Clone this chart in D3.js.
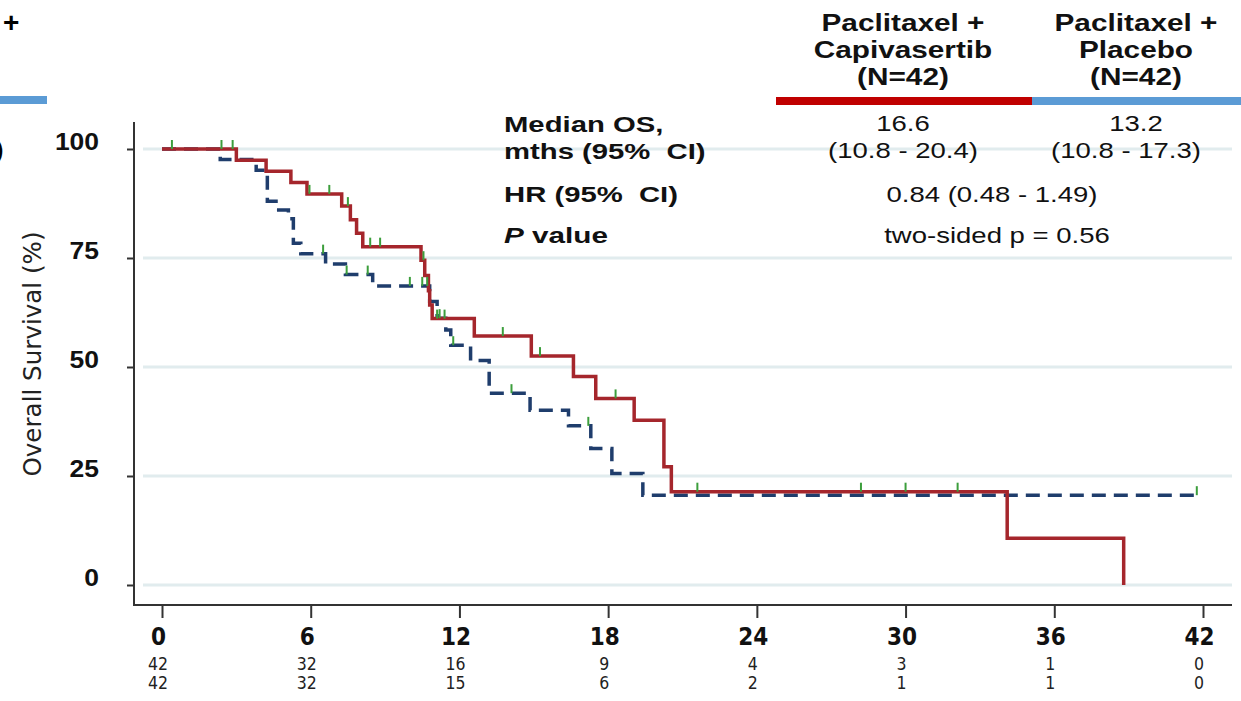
<!DOCTYPE html>
<html>
<head>
<meta charset="utf-8">
<script src="https://cdn.jsdelivr.net/npm/d3@7"></script>
<style>
  html, body { margin: 0; padding: 0; background: #fff; }
  svg { display: block; }
  .wide { font-family: "Liberation Sans", Arial, sans-serif; }
  .narrow { font-family: "Liberation Sans Narrow", "Arial Narrow", "DejaVu Sans Condensed", sans-serif; }
</style>
</head>
<body>
<svg id="chart" width="1241" height="701"></svg>
<script>
// Months on the x axis and numbers at risk beneath each tick
const months = [0, 6, 12, 18, 24, 30, 36, 42];
const atRiskCapi = [42, 32, 16, 9, 4, 3, 1, 0];
const atRiskPlac = [42, 32, 15, 6, 2, 1, 1, 0];
const survTicks = [0, 25, 50, 75, 100];

// Kaplan-Meier steps: Paclitaxel + Capivasertib
const capiTime = [0, 3.0, 4.2, 5.2, 5.85, 7.25, 7.6, 7.85, 8.1, 10.45, 10.6, 10.75, 10.8, 10.9, 12.6, 14.9, 16.6, 17.5, 19.05, 20.25, 20.55, 34.1, 38.8];
const capiSurv = [100, 97.4, 94.9, 92.3, 89.7, 86.9, 83.8, 80.7, 77.6, 74.5, 71.0, 67.5, 64.2, 61.1, 57.1, 52.5, 47.8, 42.8, 37.8, 27.1, 21.4, 10.7, 0];
const capiCensor = [0.4, 2.4, 2.85, 5.95, 6.75, 7.5, 8.4, 8.8, 10.55, 11.1, 11.4, 13.75, 15.25, 18.3, 21.6, 28.2, 30.0, 32.1];

// Kaplan-Meier steps: Paclitaxel + Placebo
const placTime = [0, 2.35, 3.8, 4.25, 4.6, 5.1, 5.3, 5.6, 6.6, 7.4, 8.5, 10.8, 11.1, 11.45, 11.65, 12.45, 13.2, 14.85, 16.4, 17.3, 18.15, 19.4, 41.75];
const placSurv = [100, 97.6, 95.1, 88.0, 86.0, 84.0, 78.4, 76.0, 73.6, 71.2, 68.6, 65.0, 61.2, 58.5, 55.0, 51.5, 44.0, 40.1, 36.5, 31.3, 25.6, 20.6, 20.6];
const placCensor = [6.5, 7.45, 8.3, 10.0, 10.5, 10.7, 11.2, 11.75, 14.1, 17.2, 41.75];

// Summary table
const armHeads = [["Paclitaxel +", "Capivasertib", "(N=42)"], ["Paclitaxel +", "Placebo", "(N=42)"]];
const rowLabels = ["Median OS,", "mths (95%\u00a0 CI)", "HR (95%\u00a0 CI)"];
const medianOS = ["16.6", "13.2"];
const medianCI = ["(10.8 - 20.4)", "(10.8 - 17.3)"];
const hrText = "0.84 (0.48 - 1.49)";
const pText = "two-sided p = 0.56";

const RED = "#a5262c", NAVY = "#1f3d6c", GREEN = "#3c9e3c";
const svg = d3.select("#chart");

const x = d3.scaleLinear().domain([0, 42]).range([162, 1203]);
const y = d3.scaleLinear().domain([0, 100]).range([585, 149]);

// horizontal gridlines
svg.append("g").selectAll("line").data(survTicks).join("line")
  .attr("x1", 143).attr("x2", 1232)
  .attr("y1", d => y(d)).attr("y2", d => y(d))
  .attr("stroke", "#e1ecee").attr("stroke-width", 3);

// widen the table lettering by a factor k
function stretch(sel, k) {
  sel.each(function () {
    const w = this.getComputedTextLength();
    d3.select(this).attr("textLength", w * k).attr("lengthAdjust", "spacingAndGlyphs");
  });
}

// ---- summary table ----
const colX = [903, 1136];
const tbl = svg.append("g").attr("class", "wide").attr("fill", "#111");
armHeads.forEach((lines, i) => {
  lines.forEach((t, j) => {
    tbl.append("text").attr("x", colX[i]).attr("y", 31 + j * 27)
      .attr("text-anchor", "middle").attr("font-weight", "bold").attr("font-size", 24)
      .text(t).call(stretch, 1.24);
  });
});
svg.append("rect").attr("x", 776).attr("y", 97).attr("width", 256).attr("height", 8).attr("fill", "#c00000");
svg.append("rect").attr("x", 1032).attr("y", 97).attr("width", 209).attr("height", 8).attr("fill", "#5b9bd5");

const rowY = [132, 159, 202];
rowLabels.forEach((t, i) => {
  tbl.append("text").attr("x", 504).attr("y", rowY[i]).attr("font-weight", "bold").attr("font-size", 22)
    .text(t).call(stretch, 1.33);
});
const pv = tbl.append("text").attr("x", 504).attr("y", 243).attr("font-weight", "bold").attr("font-size", 22);
pv.append("tspan").attr("font-style", "italic").text("P");
pv.append("tspan").text(" value");
stretch(pv, 1.35);

medianOS.forEach((t, i) => {
  tbl.append("text").attr("x", colX[i]).attr("y", 131).attr("text-anchor", "middle")
    .attr("font-size", 22).text(t).call(stretch, 1.25);
});
medianCI.forEach((t, i) => {
  tbl.append("text").attr("x", colX[i] - (i ? 10 : 0)).attr("y", 158).attr("text-anchor", "middle")
    .attr("font-size", 22).text(t).call(stretch, 1.25);
});
tbl.append("text").attr("x", 992).attr("y", 202).attr("text-anchor", "middle")
  .attr("font-size", 22).text(hrText).call(stretch, 1.25);
tbl.append("text").attr("x", 997).attr("y", 243).attr("text-anchor", "middle")
  .attr("font-size", 22).text(pText).call(stretch, 1.25);

// edge of the neighbouring panel
svg.append("text").attr("class", "wide").attr("x", 3).attr("y", 32)
  .attr("font-weight", "bold").attr("font-size", 28).text("+");
svg.append("rect").attr("x", 0).attr("y", 96).attr("width", 47).attr("height", 8).attr("fill", "#5b9bd5");
svg.append("text").attr("class", "wide").attr("x", -4).attr("y", 157)
  .attr("font-weight", "bold").attr("font-size", 22).text(")");

// ---- axes ----
svg.append("line").attr("x1", 134).attr("x2", 134).attr("y1", 122).attr("y2", 606)
  .attr("stroke", "#333").attr("stroke-width", 2);
svg.append("line").attr("x1", 133).attr("x2", 1232).attr("y1", 605).attr("y2", 605)
  .attr("stroke", "#333").attr("stroke-width", 2);

const yAx = svg.append("g").attr("transform", "translate(134,0)")
  .call(d3.axisLeft(y).tickValues(survTicks).tickSize(7).tickPadding(28));
yAx.select(".domain").remove();
yAx.selectAll(".tick line").attr("stroke", "#333").attr("stroke-width", 2);
yAx.selectAll(".tick text").attr("class", "wide").attr("font-size", 23).attr("font-weight", "bold")
  .attr("fill", "#111").attr("dy", "0em")
  .call(stretch, 1.15);

const xAx = svg.append("g").attr("transform", "translate(0,605)")
  .call(d3.axisBottom(x).tickValues(months).tickSize(13).tickPadding(10));
xAx.select(".domain").remove();
xAx.selectAll(".tick line").attr("stroke", "#333").attr("stroke-width", 2);
xAx.selectAll(".tick text").attr("class", "narrow").attr("font-size", 24).attr("font-weight", "bold")
  .attr("fill", "#111").attr("dx", -4);

// numbers at risk
[atRiskCapi, atRiskPlac].forEach((row, r) => {
  svg.append("g").selectAll("text").data(row).join("text")
    .attr("class", "narrow").attr("font-size", 17.5).attr("fill", "#222")
    .attr("text-anchor", "middle")
    .attr("x", (d, i) => x(months[i]) - 4).attr("y", 670 + r * 19)
    .text(d => d);
});

// y axis title
svg.append("text").attr("class", "narrow")
  .attr("transform", "translate(41,354) rotate(-90)")
  .attr("text-anchor", "middle").attr("font-size", 25).attr("fill", "#222")
  .attr("textLength", 245).attr("lengthAdjust", "spacingAndGlyphs")
  .text("Overall Survival (%)");

// ---- survival curves ----
const step = d3.line().x(d => x(d[0])).y(d => y(d[1])).curve(d3.curveStepAfter);
const capi = capiTime.map((t, i) => [t, capiSurv[i]]);
const plac = placTime.map((t, i) => [t, placSurv[i]]);

svg.append("path").attr("d", step(plac)).attr("fill", "none")
  .attr("stroke", NAVY).attr("stroke-width", 3.5).attr("stroke-dasharray", "14 8");
svg.append("path").attr("d", step(capi)).attr("fill", "none")
  .attr("stroke", RED).attr("stroke-width", 3.5);

// censoring marks sit on the curve at the survival level in force at that time
function survAt(times, surv, t) {
  let v = surv[0];
  times.forEach((tt, i) => { if (tt <= t) v = surv[i]; });
  return v;
}
[[capiCensor, capiTime, capiSurv], [placCensor, placTime, placSurv]].forEach(([cs, ts, ss]) => {
  svg.append("g").selectAll("line").data(cs).join("line")
    .attr("x1", d => x(d)).attr("x2", d => x(d))
    .attr("y1", d => y(survAt(ts, ss, d)))
    .attr("y2", d => y(survAt(ts, ss, d)) - 9)
    .attr("stroke", GREEN).attr("stroke-width", 2);
});
</script>
</body>
</html>
